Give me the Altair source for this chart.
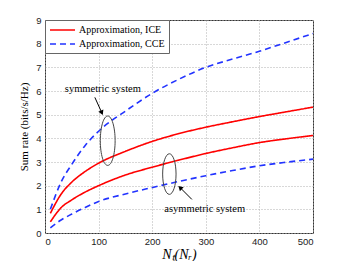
import altair as alt
import pandas as pd

x_vals = [10, 30, 50, 75, 100, 150, 200, 250, 300, 350, 400, 450, 500]
cce_sym = [1.0, 2.15, 2.9, 3.7, 4.3, 5.15, 5.9, 6.5, 7.0, 7.35, 7.68, 8.05, 8.43]
ice_sym = [0.83, 1.64, 2.15, 2.6, 2.95, 3.45, 3.87, 4.2, 4.47, 4.7, 4.92, 5.12, 5.32]
ice_asym = [0.47, 1.07, 1.4, 1.73, 2.0, 2.45, 2.78, 3.08, 3.36, 3.6, 3.82, 3.98, 4.12]
cce_asym = [0.22, 0.55, 0.8, 1.08, 1.33, 1.65, 1.92, 2.18, 2.42, 2.64, 2.84, 2.99, 3.12]

x_ticks = [0, 100, 200, 300, 400, 500]
y_ticks = [0, 1, 2, 3, 4, 5, 6, 7, 8, 9]

ICE = "Approximation, ICE"
CCE = "Approximation, CCE"

rows = []
for name, sys, ys in [(ICE, "sym", ice_sym), (ICE, "asym", ice_asym),
                      (CCE, "sym", cce_sym), (CCE, "asym", cce_asym)]:
    for xv, yv in zip(x_vals, ys):
        rows.append({"x": xv, "y": yv, "method": name, "system": sys})
df = pd.DataFrame(rows)

SERIF = "Liberation Serif"
SANS = "Liberation Sans"

xs = alt.Scale(domain=[0, 500], nice=False)
ys = alt.Scale(domain=[0, 9], nice=False)

x_axis = alt.Axis(values=x_ticks, title="Nₜ(Nᵣ)",
                  titleFont=SERIF, titleFontStyle="italic", titleFontWeight="normal",
                  titleFontSize=14, titlePadding=2, labelFont=SANS, labelFontSize=9.5,
                  labelColor="#222", ticks=False, labelPadding=3, labelOverlap=False,
                  grid=True, gridDash=[1, 2], gridColor="#b0b0b0", domain=False)
y_axis = alt.Axis(values=y_ticks, tickCount=10, title="Sum rate (bits/s/Hz)",
                  titleFont=SERIF, titleFontWeight="normal", titleFontSize=11,
                  titlePadding=6, labelFont=SANS, labelFontSize=9.5, labelColor="#222",
                  ticks=False, labelPadding=4, labelOverlap=False,
                  grid=True, gridDash=[1, 2], gridColor="#b0b0b0", domain=False)


def X(f):
    return alt.X(f, type="quantitative", scale=xs, axis=x_axis)


def Y(f):
    return alt.Y(f, type="quantitative", scale=ys, axis=y_axis)


lines = alt.Chart(df).mark_line(strokeWidth=1.6, clip=True, interpolate="monotone").encode(
    x=X("x"), y=Y("y"),
    color=alt.Color("method:N", scale=alt.Scale(domain=[ICE, CCE], range=["#ff0000", "#2233ff"]),
                    legend=alt.Legend(title=None, orient="none", legendX=0, legendY=0,
                                      fillColor="white", strokeColor="#666",
                                      padding=4, labelFont=SERIF, labelFontSize=10,
                                      labelColor="black",
                                      symbolType="M -1,0 L 4,0", symbolSize=100,
                                      symbolStrokeWidth=1.6, rowPadding=3, labelOffset=18)),
    strokeDash=alt.StrokeDash("method:N", scale=alt.Scale(domain=[ICE, CCE], range=[[1, 0], [6, 4]])),
    detail="system:N",
)

k = 0.5523


def ell(rx):
    return (f"M 0,-1 C {k*rx:.3f},-1 {rx},{-k:.3f} {rx},0 C {rx},{k:.3f} {k*rx:.3f},1 0,1 "
            f"C {-k*rx:.3f},1 {-rx},{k:.3f} {-rx},0 C {-rx},{-k:.3f} {-k*rx:.3f},-1 0,-1 Z")


ell_df = pd.DataFrame({
    "x": [117, 232], "y": [3.9, 2.49],
    "shape": [ell(0.30), ell(0.33)], "size": [2440, 1650],
})
ellipses = alt.Chart(ell_df).mark_point(filled=False, stroke="#444", strokeWidth=1, opacity=1).encode(
    x=X("x"), y=Y("y"),
    shape=alt.Shape("shape:N", scale=None), size=alt.Size("size:Q", scale=None),
)

arr_df = pd.DataFrame({
    "x": [93, 274], "y": [5.73, 1.42], "x2": [106, 252], "y2": [5.08, 1.92],
    "angle": [156, 314],
})
arrows = alt.Chart(arr_df).mark_rule(color="black", strokeWidth=1).encode(
    x=X("x"), y=Y("y"), x2="x2:Q", y2="y2:Q",
)
heads = alt.Chart(arr_df).mark_point(shape="triangle-up", filled=True, color="black",
                                     size=30, opacity=1).encode(
    x=X("x2"), y=Y("y2"),
    angle=alt.Angle("angle:Q", scale=None),
)

txt_df = pd.DataFrame({"x": [108, 298], "y": [6.1, 1.03],
                       "label": ["symmetric system", "asymmetric system"]})
texts = alt.Chart(txt_df).mark_text(font=SERIF, fontSize=10.5, color="black").encode(
    x=X("x"), y=Y("y"), text="label:N",
)

chart = alt.layer(lines, ellipses, arrows, heads, texts).properties(
    width=268, height=213,
    autosize=alt.AutoSizeParams(type="none"),
    padding={"left": 37, "top": 12, "right": 10, "bottom": 28},
    background="white",
).configure_view(stroke="#333", strokeWidth=1)

chart.save("out.html", embed_options={"renderer": "svg", "actions": False})
